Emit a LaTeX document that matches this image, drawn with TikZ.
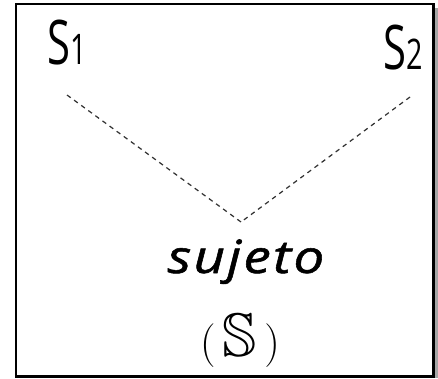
\documentclass[tikz,border=0pt]{standalone}
\usepackage{amsmath, amssymb}
\usepackage{fontspec}
\usepackage{tikz}
\usetikzlibrary{positioning, calc}
\newfontfamily\labelfont[FakeStretch=0.68]{Open Sans}
\newfontfamily\sujfont[FakeStretch=1.2, LetterSpace=5, FakeBold=1.2]{Open Sans}

\tikzset{
    lbl/.style={inner sep=0pt, font=\labelfont\fontsize{35}{35}\selectfont},
    link/.style={dash pattern=on 2.6pt off 2.4pt, line width=0.7pt, black!80}
}

\begin{document}
\begin{tikzpicture}[x=0.02cm, y=-0.02cm]
    \useasboundingbox (0,0) rectangle (438,378);
    % marco
    \fill[black!35] (434,8) rectangle (438,378);
    \draw[line width=1.7pt] (16,4) rectangle (433,376);

    % etiquetas
    \node[lbl, anchor=base west] (s1) at (47,65) {S{\fontsize{24}{24}\selectfont 1}};
    \node[lbl, anchor=base west] (s2) at (383,70) {S{\fontsize{24}{24}\selectfont 2}};
    \node[lbl, anchor=base, font=\sujfont\itshape\fontsize{26}{26}\selectfont] (suj) at (246,273) {sujeto};
    \node[inner sep=0pt, anchor=base, font=\fontsize{35}{35}\selectfont] (sym) at (240,356) {$(\,\mathbb{S}\,)$};

    % conectores
    \coordinate (a1) at (67,95);
    \coordinate (a2) at (410,97);
    \coordinate (apex) at (241,222);
    \draw[link] (a1) -- (apex);
    \draw[link] (a2) -- (apex);
\end{tikzpicture}
\end{document}
